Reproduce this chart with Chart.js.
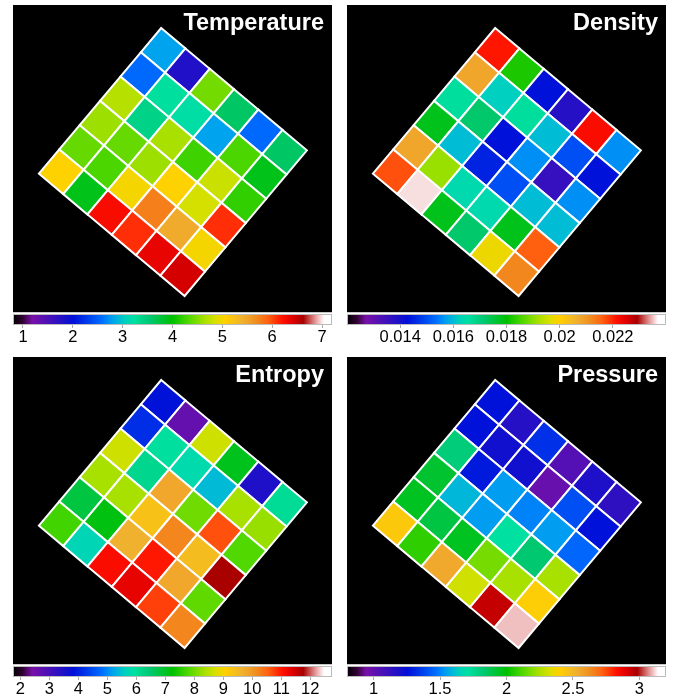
<!DOCTYPE html>
<html><head><meta charset="utf-8">
<script src="https://cdn.jsdelivr.net/npm/chart.js@4.4.1/dist/chart.umd.min.js"></script>
<style>
html,body{margin:0;padding:0;background:#fff;width:685px;height:698px;overflow:hidden}
.box{position:absolute}
canvas{display:block}
</style></head><body>
<div id="root"></div>
<script>
// ---------------- DATA ----------------
// 6x6 grid of cells; rows = index along the up-left edge, columns = index along the up-right edge
const gridIndex = [0, 1, 2, 3, 4, 5];

const titles = ['Temperature', 'Density', 'Entropy', 'Pressure'];

const temperature = [
  [2.8, 1.8, 4.45, 3.6, 2.55, 3.6],
  [2.55, 3.25, 3.2, 2.8, 4.3, 3.9],
  [4.7, 3.4, 4.65, 4.25, 4.8, 4.2],
  [4.6, 4.4, 4.6, 5.05, 4.85, 6.1],
  [4.4, 4.3, 5.0, 5.75, 5.45, 5.0],
  [5.05, 3.9, 6.25, 6.1, 6.35, 6.45]
];
const density = [
  [0.0221, 0.0182, 0.0143, 0.0138, 0.0222, 0.0156],
  [0.0208, 0.0162, 0.0166, 0.0160, 0.0150, 0.0143],
  [0.0166, 0.0172, 0.0143, 0.0156, 0.0136, 0.0156],
  [0.0178, 0.0160, 0.0145, 0.0150, 0.0160, 0.0160],
  [0.0208, 0.0191, 0.0164, 0.0164, 0.0178, 0.0216],
  [0.0217, 0.0236, 0.0178, 0.0172, 0.0198, 0.0212]
];
const entropy = [
  [3.85, 2.65, 8.65, 7.05, 3.5, 6.05],
  [4.15, 5.95, 5.8, 5.4, 8.35, 8.25],
  [8.65, 6.15, 9.8, 8.0, 10.65, 7.8],
  [8.35, 8.35, 9.35, 10.2, 9.45, 11.75],
  [6.8, 7.15, 9.65, 11.0, 9.8, 7.9],
  [7.7, 5.7, 11.1, 11.3, 10.75, 10.2]
];
const pressure = [
  [1.26, 1.16, 1.33, 1.04, 1.18, 1.14],
  [1.26, 1.21, 1.21, 0.99, 1.40, 1.26],
  [1.81, 1.28, 1.54, 1.50, 1.54, 1.45],
  [1.93, 1.59, 1.54, 1.71, 1.83, 2.24],
  [1.95, 1.90, 1.95, 2.17, 2.24, 2.41],
  [2.43, 2.07, 2.55, 2.31, 2.94, 3.10]
];

// colour-bar ranges
const tempRange = [0.8, 7.2];
const densRange = [0.012, 0.024];
const entRange = [1.75, 12.75];
const presRange = [0.8, 3.2];

// colour-bar ticks
const tempTicks = [1, 2, 3, 4, 5, 6, 7];
const tempTickLabels = ['1', '2', '3', '4', '5', '6', '7'];
const densTicks = [0.014, 0.016, 0.018, 0.02, 0.022];
const densTickLabels = ['0.014', '0.016', '0.018', '0.02', '0.022'];
const entTicks = [2, 3, 4, 5, 6, 7, 8, 9, 10, 11, 12];
const entTickLabels = ['2', '3', '4', '5', '6', '7', '8', '9', '10', '11', '12'];
const presTicks = [1, 1.5, 2, 2.5, 3];
const presTickLabels = ['1', '1.5', '2', '2.5', '3'];

// ---------------- STYLE / LAYOUT ----------------
const cmapStops = [
  [0.00, '#000000'], [0.03, '#300030'], [0.06, '#7810a8'], [0.14, '#3010c0'],
  [0.19, '#0010d8'], [0.24, '#0044f0'], [0.28, '#0070ff'], [0.31, '#00a0f0'],
  [0.35, '#00d0c0'], [0.38, '#00e0a0'], [0.43, '#00c870'], [0.50, '#00c000'],
  [0.55, '#50d800'], [0.60, '#a8e000'], [0.635, '#d8e000'], [0.665, '#ffd000'],
  [0.72, '#f0b030'], [0.76, '#f09020'], [0.80, '#ff6010'], [0.845, '#ff1000'],
  [0.875, '#e00000'], [0.91, '#a80000'], [0.95, '#e8a0a0'], [0.975, '#ffffff'],
  [1.00, '#ffffff']
];
function hex2rgb(h) { return [parseInt(h.slice(1,3),16), parseInt(h.slice(3,5),16), parseInt(h.slice(5,7),16)]; }
function cmap(f) {
  f = Math.max(0, Math.min(1, f));
  for (let i = 1; i < cmapStops.length; i++) {
    if (f <= cmapStops[i][0]) {
      const [f0, c0] = cmapStops[i-1], [f1, c1] = cmapStops[i];
      const t = (f - f0) / (f1 - f0 || 1);
      const a = hex2rgb(c0), b = hex2rgb(c1);
      return 'rgb(' + a.map((v, k) => Math.round(v + (b[k] - v) * t)).join(',') + ')';
    }
  }
  return cmapStops[cmapStops.length-1][1];
}

const PANEL_W = 319, PANEL_H = 307;
const CELL = 31.7;          // px per grid cell
const CENTER = [159.9, 157]; // grid centre inside panel (px)
const ROT = 40;              // grid rotation (deg)
const panelPos = [[13, 5], [347, 5], [13, 357], [347, 357]];
const CBAR_H = 11, CBAR_AXIS_H = 23;
const FONT = '"Liberation Sans", Arial, Helvetica, sans-serif';

const panels = [
  {title: titles[0], grid: temperature, range: tempRange, ticks: tempTicks, labels: tempTickLabels},
  {title: titles[1], grid: density, range: densRange, ticks: densTicks, labels: densTickLabels},
  {title: titles[2], grid: entropy, range: entRange, ticks: entTicks, labels: entTickLabels},
  {title: titles[3], grid: pressure, range: presRange, ticks: presTicks, labels: presTickLabels}
];

const root = document.getElementById('root');
const rad = ROT * Math.PI / 180;

panels.forEach((p, k) => {
  const [px, py] = panelPos[k];
  // heatmap panel
  const d1 = document.createElement('div');
  d1.className = 'box'; d1.style.left = px + 'px'; d1.style.top = py + 'px';
  const c1 = document.createElement('canvas');
  c1.width = PANEL_W; c1.height = PANEL_H + 1;
  d1.appendChild(c1); root.appendChild(d1);

  const pts = [];
  gridIndex.forEach(r => gridIndex.forEach(c => {
    const a = c - 2.5, b = r - 2.5;
    pts.push({x: a * Math.cos(rad) - b * Math.sin(rad), y: a * Math.sin(rad) + b * Math.cos(rad), v: p.grid[r][c]});
  }));
  const [vmin, vmax] = p.range;

  new Chart(c1, {
    type: 'scatter',
    data: {datasets: [{
      data: pts,
      pointStyle: 'rect',
      pointRotation: ROT,
      pointRadius: (ctx) => {
        const s = ctx.chart.scales.x;
        return Math.abs(s.getPixelForValue(1) - s.getPixelForValue(0)) / Math.SQRT2;
      },
      pointBackgroundColor: (ctx) => cmap((ctx.raw.v - vmin) / (vmax - vmin)),
      pointBorderColor: '#ffffff',
      pointBorderWidth: 2
    }]},
    options: {
      responsive: false, animation: false, events: [],
      layout: {padding: {left: 0, right: 0, top: 0, bottom: 1}},
      plugins: {legend: {display: false}, tooltip: {enabled: false}},
      scales: {
        x: {type: 'linear', display: false, min: -CENTER[0] / CELL, max: (PANEL_W - CENTER[0]) / CELL},
        y: {type: 'linear', display: false, reverse: true, min: -CENTER[1] / CELL, max: (PANEL_H - CENTER[1]) / CELL}
      }
    },
    plugins: [{
      id: 'bg',
      beforeDraw(chart) {
        const {ctx, chartArea: ca} = chart;
        ctx.save();
        ctx.fillStyle = '#000';
        ctx.fillRect(ca.left, ca.top, ca.right - ca.left, ca.bottom - ca.top);
        ctx.fillStyle = '#c8c8c8';
        ctx.fillRect(ca.left, ca.bottom, ca.right - ca.left, 1);
        ctx.restore();
      },
      afterDraw(chart) {
        const {ctx, chartArea: ca} = chart;
        ctx.save();
        ctx.font = 'bold 23.5px ' + FONT;
        ctx.fillStyle = '#fff';
        ctx.textAlign = 'right';
        ctx.textBaseline = 'alphabetic';
        ctx.fillText(p.title, ca.right - 8, ca.top + 25);
        ctx.restore();
      }
    }]
  });

  // colour bar
  const d2 = document.createElement('div');
  d2.className = 'box'; d2.style.left = px + 'px'; d2.style.top = (py + PANEL_H + 2) + 'px';
  const c2 = document.createElement('canvas');
  c2.width = PANEL_W; c2.height = CBAR_H + CBAR_AXIS_H;
  d2.appendChild(c2); root.appendChild(d2);

  new Chart(c2, {
    type: 'scatter',
    data: {datasets: []},
    options: {
      responsive: false, animation: false, events: [],
      layout: {padding: 0},
      plugins: {legend: {display: false}, tooltip: {enabled: false}},
      scales: {
        x: {
          type: 'linear', position: 'bottom', min: vmin, max: vmax,
          afterBuildTicks: (axis) => { axis.ticks = p.ticks.map(v => ({value: v})); },
          afterFit: (axis) => { axis.height = CBAR_AXIS_H; },
          ticks: {callback: (v, i) => p.labels[i], font: {family: FONT, size: 16.5}, color: '#000',
                  padding: 0, maxRotation: 0, autoSkip: false},
          grid: {drawOnChartArea: false, drawTicks: true, tickLength: 3, color: '#aaaaaa'},
          border: {display: false}
        },
        y: {type: 'linear', display: false, min: 0, max: 1}
      }
    },
    plugins: [{
      id: 'cbar',
      beforeDraw(chart) {
        const {ctx, chartArea: ca} = chart;
        const g = ctx.createLinearGradient(ca.left, 0, ca.right, 0);
        cmapStops.forEach(([f, c]) => g.addColorStop(f, c));
        ctx.save();
        ctx.fillStyle = g;
        ctx.fillRect(ca.left, ca.top, ca.right - ca.left, ca.bottom - ca.top);
        ctx.strokeStyle = '#bbbbbb';
        ctx.lineWidth = 1;
        ctx.strokeRect(ca.left + 0.5, ca.top + 0.5, ca.right - ca.left - 1, ca.bottom - ca.top - 1);
        ctx.restore();
      }
    }]
  });
});
</script>
</body></html>
